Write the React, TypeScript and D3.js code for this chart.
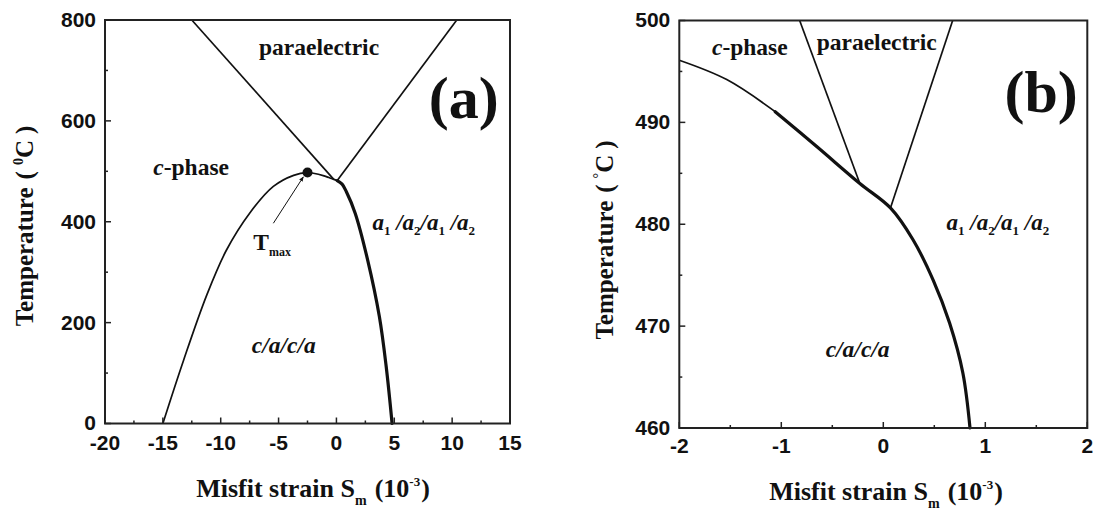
import React from "react";
import * as d3 from "d3";

type Pt = [number, number];

// ---- panel (a): full range ----
const xTicksA = [-20, -15, -10, -5, 0, 5, 10, 15];
const yTicksA = [0, 200, 400, 600, 800];
const paraLeftA: Pt[] = [[-12.5, 800], [-0.23, 484]];
const paraRightA: Pt[] = [[10.4, 800], [0.07, 481.6]];
const caBoundaryA: Pt[] = [
  [-15, 0], [-13.2, 126], [-11.2, 255], [-9.5, 344], [-7.5, 417], [-5.45, 470],
  [-3.7, 492], [-2.5, 497.5], [-2.0, 496.2], [-1.07, 491], [-0.65, 487.6], [-0.23, 484], [0.07, 481.6],
];
const a1a2BoundaryA: Pt[] = [
  [0.07, 481.6], [0.49, 474.5], [0.85, 460], [1.62, 417], [2.7, 324], [3.71, 212], [4.3, 113], [4.81, 0],
];
const tmaxA: Pt = [-2.5, 497.5];
const tmaxArrowA: Pt[] = [[-5.45, 397], [-2.86, 489]];

// ---- panel (b): zoom near the triple point ----
const xTicksB = [-2, -1, 0, 1, 2];
const yTicksB = [460, 470, 480, 490, 500];
const paraLeftB: Pt[] = [[-0.82, 500], [-0.23, 484.0]];
const paraRightB: Pt[] = [[0.68, 500], [0.07, 481.6]];
const cBoundaryB: Pt[] = [[-2, 496.1], [-1.535, 494.2], [-1.06, 491.05]];
const a1a2BoundaryB: Pt[] = [
  [-1.06, 491.05], [-0.65, 487.6], [-0.23, 484.0], [0.07, 481.6], [0.29, 478.5],
  [0.49, 474.5], [0.65, 470.3], [0.78, 465.4], [0.85, 460],
];

const SERIF = "'Liberation Serif', 'Times New Roman', serif";
const SANS = "'Liberation Sans', Arial, sans-serif";

type PanelProps = {
  box: { left: number; right: number; top: number; bottom: number };
  xDomain: [number, number];
  yDomain: [number, number];
  xTicks: number[];
  yTicks: number[];
  thin: Pt[][];
  thick: Pt[][];
  tickLabelY: number;
  yTitleX: number;
  yTitleCenter: number;
  degree: string;
  xTitleX: number;
  xTitleY: number;
  children: (x: d3.ScaleLinear<number, number>, y: d3.ScaleLinear<number, number>) => React.ReactNode;
};

function Panel(p: PanelProps) {
  const { box } = p;
  const x = d3.scaleLinear().domain(p.xDomain).range([box.left, box.right]);
  const y = d3.scaleLinear().domain(p.yDomain).range([box.bottom, box.top]);
  const line = d3
    .line<Pt>()
    .x((d) => x(d[0]))
    .y((d) => y(d[1]))
    .curve(d3.curveCatmullRom.alpha(0.5));

  const xStep = p.xTicks[1] - p.xTicks[0];
  const yStep = p.yTicks[1] - p.yTicks[0];
  const xMinor = p.xTicks.slice(0, -1).map((t) => t + xStep / 2);
  const yMinor = p.yTicks.slice(0, -1).map((t) => t + yStep / 2);

  return (
    <g>
      {p.thin.map((d, i) => (
        <path key={"t" + i} d={line(d) || ""} fill="none" stroke="#111" strokeWidth={1.7} />
      ))}
      {p.thick.map((d, i) => (
        <path key={"k" + i} d={line(d) || ""} fill="none" stroke="#111" strokeWidth={3.2} strokeLinecap="round" />
      ))}
      <rect
        x={box.left}
        y={box.top}
        width={box.right - box.left}
        height={box.bottom - box.top}
        fill="none"
        stroke="#222"
        strokeWidth={2}
      />
      {p.xTicks.map((t) => (
        <line key={"xt" + t} x1={x(t)} x2={x(t)} y1={box.bottom} y2={box.bottom - 6} stroke="#222" strokeWidth={1.5} />
      ))}
      {xMinor.map((t) => (
        <line key={"xm" + t} x1={x(t)} x2={x(t)} y1={box.bottom} y2={box.bottom - 3} stroke="#222" strokeWidth={1.5} />
      ))}
      {p.yTicks.map((t) => (
        <line key={"yt" + t} x1={box.left} x2={box.left + 6} y1={y(t)} y2={y(t)} stroke="#222" strokeWidth={1.5} />
      ))}
      {yMinor.map((t) => (
        <line key={"ym" + t} x1={box.left} x2={box.left + 3} y1={y(t)} y2={y(t)} stroke="#222" strokeWidth={1.5} />
      ))}
      {p.xTicks.map((t) => (
        <text
          key={"xl" + t}
          x={x(t)}
          y={p.tickLabelY}
          textAnchor="middle"
          fontFamily={SANS}
          fontWeight="bold"
          fontSize={21}
          fill="#111"
        >
          {t}
        </text>
      ))}
      {p.yTicks.map((t) => (
        <text
          key={"yl" + t}
          x={box.left - 9}
          y={y(t)}
          dy="0.33em"
          textAnchor="end"
          fontFamily={SANS}
          fontWeight="bold"
          fontSize={21}
          fill="#111"
        >
          {t}
        </text>
      ))}
      <text
        transform={`translate(${p.yTitleX},${p.yTitleCenter}) rotate(-90)`}
        textAnchor="middle"
        fontFamily={SERIF}
        fontWeight="bold"
        fontSize={25}
        fill="#111"
      >
        Temperature
        <tspan dx={8}>(</tspan>
        <tspan fontSize={14} dx={6} dy={-10}>{p.degree}</tspan>
        <tspan dy={10}>C</tspan>
        <tspan dx={6}>)</tspan>
      </text>
      <text
        x={p.xTitleX}
        y={p.xTitleY}
        textAnchor="middle"
        fontFamily={SERIF}
        fontWeight="bold"
        fontSize={26}
        fill="#111"
      >
        Misfit strain S
        <tspan fontSize={14} dy={8}>m</tspan>
        <tspan dy={-8} dx={8}>(10</tspan>
        <tspan fontSize={13} dy={-11}>-3</tspan>
        <tspan dy={11} dx={1}>)</tspan>
      </text>
      {p.children(x, y)}
    </g>
  );
}

function A1A2({ x, y }: { x: number; y: number }) {
  const sub = (s: string, key: string) => (
    <tspan key={key} fontSize={13} fontStyle="normal" dy={5}>{s}</tspan>
  );
  return (
    <text x={x} y={y} fontFamily={SERIF} fontWeight="bold" fontStyle="italic" fontSize={23} fill="#111">
      a{sub("1", "s1")}
      <tspan dy={-5}> /a</tspan>
      {sub("2", "s2")}
      <tspan dy={-5}>/a</tspan>
      {sub("1", "s3")}
      <tspan dy={-5}> /a</tspan>
      {sub("2", "s4")}
    </text>
  );
}

const labelStyle = { fontFamily: SERIF, fontWeight: "bold" as const, fontSize: 23.5, fill: "#111" };

export default function App() {
  return (
    <svg
      width={1096}
      height={516}
      viewBox="0 0 1096 516"
      style={{ position: "absolute", left: 0, top: 0, background: "#fff" }}
    >
      <defs>
        <marker id="arr" viewBox="0 0 10 10" refX="9" refY="5" markerWidth="5" markerHeight="5" orient="auto">
          <path d="M0,1 L10,5 L0,9 Z" fill="#111" />
        </marker>
      </defs>
      <rect width={1096} height={516} fill="#fff" />
      <Panel
        box={{ left: 105, right: 510, top: 20, bottom: 423.5 }}
        xDomain={[-20, 15]}
        yDomain={[0, 800]}
        xTicks={xTicksA}
        yTicks={yTicksA}
        thin={[paraLeftA, paraRightA, caBoundaryA]}
        thick={[a1a2BoundaryA]}
        tickLabelY={450}
        yTitleX={33}
        yTitleCenter={226}
        degree="0"
        xTitleX={313}
        xTitleY={497}
      >
        {(x, y) => (
          <g>
            <text {...labelStyle} x={x(-1.5)} y={y(730)} textAnchor="middle">paraelectric</text>
            <text {...labelStyle} x={x(-15.83)} y={y(493)}>
              <tspan fontStyle="italic">c</tspan>-phase
            </text>
            <A1A2 x={x(3.11)} y={y(383)} />
            <text {...labelStyle} fontStyle="italic" x={x(-7.32)} y={y(139)}>c/a/c/a</text>
            <text {...labelStyle} x={x(-7.18)} y={y(343)}>
              T<tspan fontSize={12} dy={6}>max</tspan>
            </text>
            <line
              x1={x(tmaxArrowA[0][0])}
              y1={y(tmaxArrowA[0][1])}
              x2={x(tmaxArrowA[1][0])}
              y2={y(tmaxArrowA[1][1])}
              stroke="#111"
              strokeWidth={1}
              markerEnd="url(#arr)"
            />
            <circle cx={x(tmaxA[0])} cy={y(tmaxA[1])} r={5} fill="#111" />
            <text {...labelStyle} fontSize={60} x={x(11.0)} y={y(605)} textAnchor="middle">(a)</text>
          </g>
        )}
      </Panel>
      <Panel
        box={{ left: 679.3, right: 1087.3, top: 20.5, bottom: 428 }}
        xDomain={[-2, 2]}
        yDomain={[460, 500]}
        xTicks={xTicksB}
        yTicks={yTicksB}
        thin={[paraLeftB, paraRightB, cBoundaryB]}
        thick={[a1a2BoundaryB]}
        tickLabelY={453}
        yTitleX={613}
        yTitleCenter={240}
        degree="°"
        xTitleX={886}
        xTitleY={500}
      >
        {(x, y) => (
          <g>
            <text {...labelStyle} x={x(-0.653)} y={y(497.1)}>paraelectric</text>
            <text {...labelStyle} x={x(-1.68)} y={y(496.6)}>
              <tspan fontStyle="italic">c</tspan>-phase
            </text>
            <A1A2 x={x(0.62)} y={y(479.4)} />
            <text {...labelStyle} fontStyle="italic" x={x(-0.565)} y={y(467.0)}>c/a/c/a</text>
            <text {...labelStyle} fontSize={60} x={x(1.547)} y={y(491.05)} textAnchor="middle">(b)</text>
          </g>
        )}
      </Panel>
    </svg>
  );
}
